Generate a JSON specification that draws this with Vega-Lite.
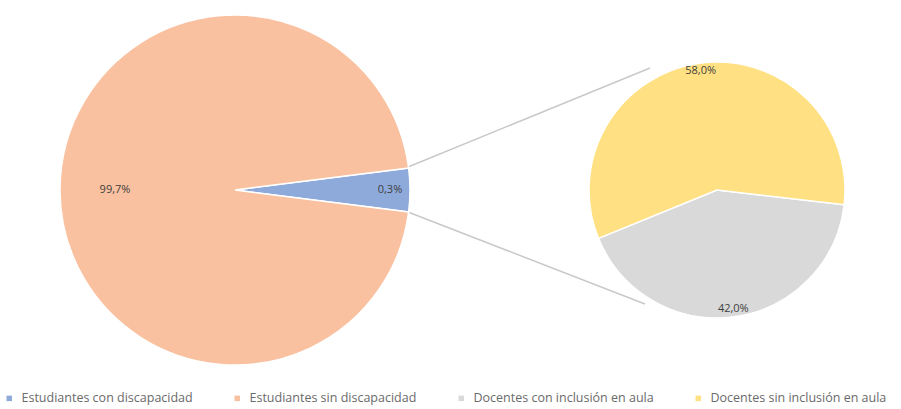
{
  "$schema": "https://vega.github.io/schema/vega-lite/v6.json",
  "width": 901,
  "height": 380,
  "autosize": {"type": "none"},
  "padding": {"left": 0, "top": 0, "right": 0, "bottom": 29},
  "background": "white",
  "config": {
    "view": {"stroke": null},
    "font": "Open Sans",
    "legend": {
      "orient": "none",
      "legendX": 3,
      "legendY": 392,
      "direction": "horizontal",
      "columns": 4,
      "columnPadding": 38,
      "symbolType": "square",
      "symbolSize": 30,
      "symbolStrokeWidth": 0,
      "labelFont": "Open Sans",
      "labelFontSize": 12.5,
      "labelColor": "#6A6A6A",
      "labelOffset": 6,
      "labelLimit": 300,
      "title": null
    }
  },
  "datasets": {
    "principal": [
      {"categoria": "Estudiantes con discapacidad", "grafico": "principal", "porcion": 4, "etiqueta": "0,3%", "idx": 1},
      {"categoria": "Estudiantes sin discapacidad", "grafico": "principal", "porcion": 96, "etiqueta": "99,7%", "idx": 2}
    ],
    "secundario": [
      {"categoria": "Docentes con inclusión en aula", "grafico": "secundario", "porcion": 42, "etiqueta": "42,0%", "idx": 1},
      {"categoria": "Docentes sin inclusión en aula", "grafico": "secundario", "porcion": 58, "etiqueta": "58,0%", "idx": 2}
    ],
    "conectores": [
      {"x": 408, "y": 167, "x2": 650, "y2": 68},
      {"x": 408, "y": 212, "x2": 645, "y2": 304}
    ]
  },
  "layer": [
    {
      "data": {"name": "conectores"},
      "mark": {"type": "rule", "stroke": "#C9C9C9", "strokeWidth": 1.5},
      "encoding": {
        "x": {"field": "x", "type": "quantitative", "scale": {"domain": [0, 901]}, "axis": null},
        "y": {"field": "y", "type": "quantitative", "scale": {"domain": [0, 380], "reverse": true}, "axis": null},
        "x2": {"field": "x2"},
        "y2": {"field": "y2"}
      }
    },
    {
      "data": {"name": "principal"},
      "encoding": {
        "x": {"field": "grafico", "type": "nominal", "scale": {"type": "point", "padding": 0, "domain": ["principal", "secundario"], "range": [235, 717]}, "axis": null},
        "theta": {"field": "porcion", "type": "quantitative", "stack": true, "scale": {"range": [1.445, 7.728]}},
        "order": {"field": "idx", "type": "quantitative"}
      },
      "layer": [
        {
          "mark": {"type": "arc", "outerRadius": 175, "stroke": "white", "strokeWidth": 1.5},
          "encoding": {
            "color": {
              "field": "categoria", "type": "nominal",
              "scale": {
                "domain": ["Estudiantes con discapacidad", "Estudiantes sin discapacidad", "Docentes con inclusión en aula", "Docentes sin inclusión en aula"],
                "range": ["#8EAADB", "#F9C19F", "#D9D9D9", "#FFE183"]
              },
              "legend": {"title": null}
            }
          }
        },
        {
          "mark": {"type": "text", "radius": 120, "fontSize": 11, "font": "Open Sans", "fill": "#404040"},
          "encoding": {"text": {"condition": {"test": "datum.idx == 2", "field": "etiqueta"}, "value": ""}}
        },
        {
          "mark": {"type": "text", "radius": 155, "fontSize": 11, "font": "Open Sans", "fill": "#404040"},
          "encoding": {"text": {"condition": {"test": "datum.idx == 1", "field": "etiqueta"}, "value": ""}}
        }
      ]
    },
    {
      "data": {"name": "secundario"},
      "encoding": {
        "x": {"field": "grafico", "type": "nominal", "scale": {"type": "point", "padding": 0, "domain": ["principal", "secundario"], "range": [235, 717]}, "axis": null},
        "theta": {"field": "porcion", "type": "quantitative", "stack": true, "scale": {"range": [1.686, 7.969]}},
        "order": {"field": "idx", "type": "quantitative"}
      },
      "layer": [
        {
          "mark": {"type": "arc", "outerRadius": 128, "stroke": "white", "strokeWidth": 1.5},
          "encoding": {
            "color": {
              "field": "categoria", "type": "nominal",
              "scale": {
                "domain": ["Estudiantes con discapacidad", "Estudiantes sin discapacidad", "Docentes con inclusión en aula", "Docentes sin inclusión en aula"],
                "range": ["#8EAADB", "#F9C19F", "#D9D9D9", "#FFE183"]
              },
              "legend": {"title": null}
            }
          }
        },
        {
          "mark": {"type": "text", "radius": 120, "fontSize": 11, "font": "Open Sans", "fill": "#404040"},
          "encoding": {"text": {"field": "etiqueta"}}
        }
      ]
    }
  ],
  "resolve": {"scale": {"x": "independent", "y": "independent", "theta": "independent"}}
}
